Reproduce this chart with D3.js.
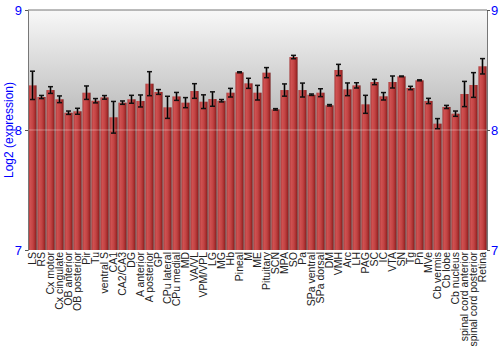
<!DOCTYPE html>
<html>
<head>
<meta charset="utf-8">
<script src="https://cdn.jsdelivr.net/npm/d3@7"></script>
<style>
  body { margin: 0; background: #fff; }
  text { font-family: "Liberation Sans", Arial, sans-serif; }
</style>
</head>
<body>
<svg id="chart" width="500" height="350"></svg>
<script>
// regions along the x axis
var regions = ["LS", "RS", "Cx motor", "Cx cingulate", "OB anterior", "OB posterior", "Pir", "Tu",
  "ventral S", "CA1", "CA2/CA3", "DG", "A anterior", "A posterior", "GP", "CPu lateral", "CPu medial",
  "MD", "VA/VL", "VPM/VPL", "LG", "MG", "Hb", "Pineal", "M", "ME", "Pituitary", "SCN", "MPA", "SO",
  "Pa", "SPa ventral", "SPa dorsal", "DM", "VMH", "Arc", "LH", "PAG", "SC", "IC", "VTA", "SN", "Tg",
  "Pn", "MVe", "Cb vermis", "Cb lobe", "Cb  nucleus", "spinal cord anterior", "spinal cord posterior", "Retina"];

// mean log2 expression
var expr = [8.372, 8.275, 8.333, 8.256, 8.144, 8.156, 8.311, 8.244,
  8.272, 8.106, 8.228, 8.256, 8.242, 8.386, 8.317, 8.189, 8.280,
  8.228, 8.325, 8.236, 8.258, 8.244, 8.311, 8.481, 8.389, 8.311, 8.478, 8.172, 8.333, 8.608,
  8.333, 8.294, 8.311, 8.206, 8.500, 8.339, 8.372, 8.214, 8.400, 8.281, 8.400, 8.447, 8.350,
  8.414, 8.242, 8.053, 8.192, 8.136, 8.300, 8.375, 8.531];

// error (half length of the bar)
var err = [0.118, 0.013, 0.028, 0.028, 0.014, 0.025, 0.056, 0.018,
  0.015, 0.132, 0.014, 0.033, 0.050, 0.100, 0.020, 0.092, 0.033,
  0.042, 0.061, 0.057, 0.060, 0.010, 0.036, 0.004, 0.042, 0.061, 0.042, 0.006, 0.051, 0.014,
  0.058, 0.006, 0.033, 0.006, 0.047, 0.053, 0.022, 0.075, 0.022, 0.031, 0.050, 0.003, 0.014,
  0.004, 0.022, 0.042, 0.013, 0.022, 0.105, 0.103, 0.064];

var yTicks = [7, 8, 9];

var svg = d3.select("#chart");
var M = {top: 10, right: 13, bottom: 100, left: 28};
var W = 500 - M.left - M.right;
var H = 350 - M.top - M.bottom;

var defs = svg.append("defs");
var bg = defs.append("linearGradient").attr("id", "bg")
  .attr("x1", 0).attr("y1", 0).attr("x2", 0).attr("y2", 1);
bg.append("stop").attr("offset", "0%").attr("stop-color", "#f8f8f8");
bg.append("stop").attr("offset", "50%").attr("stop-color", "#b4b4b4");
bg.append("stop").attr("offset", "100%").attr("stop-color", "#9a9a9a");

var bar = defs.append("linearGradient").attr("id", "bar")
  .attr("x1", 0).attr("y1", 0).attr("x2", 1).attr("y2", 0);
bar.append("stop").attr("offset", "0%").attr("stop-color", "#a33030");
bar.append("stop").attr("offset", "20%").attr("stop-color", "#d05252");
bar.append("stop").attr("offset", "55%").attr("stop-color", "#c24343");
bar.append("stop").attr("offset", "85%").attr("stop-color", "#a22a2a");
bar.append("stop").attr("offset", "100%").attr("stop-color", "#6e1212");

var g = svg.append("g").attr("transform", "translate(" + M.left + "," + M.top + ")");

var x = d3.scaleBand().domain(regions).range([0, W]).paddingInner(0.1).paddingOuter(0.05);
var y = d3.scaleLinear().domain([7, 9]).range([H, 0]);

g.append("rect").attr("width", W).attr("height", H).attr("fill", "url(#bg)");

g.selectAll(".bar").data(regions).enter().append("rect")
  .attr("class", "bar")
  .attr("x", d => x(d))
  .attr("width", x.bandwidth())
  .attr("y", (d, i) => y(expr[i]))
  .attr("height", (d, i) => y(7) - y(expr[i]))
  .attr("fill", "url(#bar)");

// faint grid line at 8
g.append("line").attr("x1", 0).attr("x2", W).attr("y1", y(8)).attr("y2", y(8))
  .attr("stroke", "#ffffff").attr("stroke-opacity", 0.35).attr("stroke-width", 1);

// error bars
var eb = g.selectAll(".err").data(regions).enter().append("g").attr("class", "err")
  .attr("transform", d => "translate(" + (x(d) + x.bandwidth() / 2) + ",0)");
eb.append("line")
  .attr("y1", (d, i) => y(expr[i] - err[i])).attr("y2", (d, i) => y(expr[i] + err[i]))
  .attr("stroke", "#444").attr("stroke-opacity", 0.6).attr("stroke-width", 2.5);
eb.append("line")
  .attr("y1", (d, i) => y(expr[i] - err[i])).attr("y2", (d, i) => y(expr[i] + err[i]))
  .attr("stroke", "#000").attr("stroke-width", 1);
eb.append("line").attr("x1", -2.5).attr("x2", 2.5)
  .attr("y1", (d, i) => y(expr[i] + err[i])).attr("y2", (d, i) => y(expr[i] + err[i]))
  .attr("stroke", "#111").attr("stroke-width", 1.5);
eb.append("line").attr("x1", -2.5).attr("x2", 2.5)
  .attr("y1", (d, i) => y(expr[i] - err[i])).attr("y2", (d, i) => y(expr[i] - err[i]))
  .attr("stroke", "#111").attr("stroke-width", 1.5);

// frame
g.append("line").attr("x1", 0).attr("x2", W).attr("y1", 0).attr("y2", 0).attr("stroke", "#777");

var yl = g.append("g").call(d3.axisLeft(y).tickValues(yTicks).tickFormat(d3.format("d")).tickSize(3).tickPadding(3));
var yr = g.append("g").attr("transform", "translate(" + W + ",0)")
  .call(d3.axisRight(y).tickValues(yTicks).tickFormat(d3.format("d")).tickSize(3).tickPadding(1));
[yl, yr].forEach(a => {
  a.select(".domain").attr("stroke", "#777");
  a.selectAll(".tick line").attr("stroke", "#555");
  a.selectAll(".tick text").attr("fill", "#0000ff").style("font-size", "13px")
    .style("font-family", "'Liberation Sans', Arial, sans-serif");
});

// x labels
var xa = g.append("g").attr("transform", "translate(0," + H + ")")
  .call(d3.axisBottom(x).tickSize(0).tickPadding(0));
xa.select(".domain").remove();
xa.selectAll(".tick text")
  .attr("transform", "rotate(-90)")
  .attr("text-anchor", "end")
  .attr("x", -2).attr("y", 0).attr("dy", "0.35em")
  .attr("fill", "#222")
  .style("font-size", "10.5px")
  .style("font-family", "'Liberation Sans', Arial, sans-serif");

svg.append("text")
  .attr("transform", "translate(13," + (M.top + H / 2) + ") rotate(-90)")
  .attr("text-anchor", "middle")
  .attr("fill", "#0000ff")
  .style("font-size", "12px")
  .text("Log2 (expression)");
</script>
</body>
</html>
